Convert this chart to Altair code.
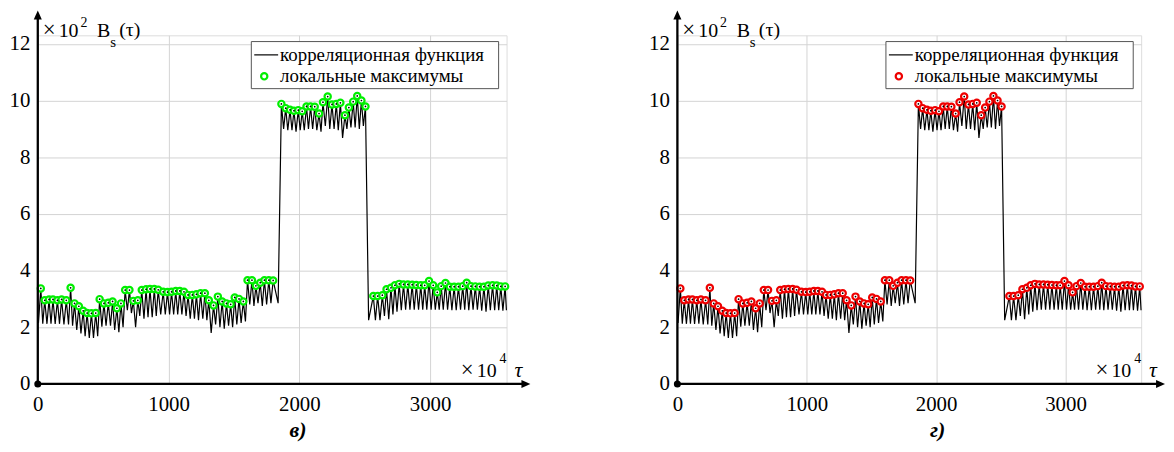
import altair as alt
import pandas as pd

# ---- data (x in units of 1e4*tau, y in units of 1e2) ----
peak_x = [23, 53, 86, 116, 150, 182, 218, 251, 281, 314, 347, 377, 410, 443, 473, 506,
          539, 572, 605, 636, 668, 701, 731, 765, 795, 828, 858, 891, 921, 959, 992, 1023,
          1055, 1086, 1118, 1149, 1182, 1213, 1245, 1278, 1308, 1344, 1377, 1410, 1443, 1475,
          1506, 1539, 1572, 1604, 1638, 1668, 1701, 1733, 1767, 1800, 1863, 1896, 1929, 1959,
          1992, 2022, 2055, 2086, 2118, 2151, 2181, 2217, 2250, 2283, 2314, 2349, 2379, 2412,
          2443, 2475, 2506, 2566, 2599, 2635, 2667, 2701, 2731, 2764, 2797, 2830, 2863, 2895,
          2929, 2959, 2992, 3024, 3055, 3085, 3118, 3151, 3184, 3217, 3250, 3280, 3313, 3346,
          3379, 3412, 3445, 3478, 3510, 3541, 3574]
peak_y = [3.37, 2.95, 2.98, 2.98, 2.95, 2.98, 2.95, 3.39, 2.84, 2.74, 2.58, 2.50, 2.49, 2.50,
          2.99, 2.84, 2.86, 2.91, 2.67, 2.84, 3.31, 3.31, 2.93, 2.95, 3.31, 3.34, 3.35, 3.35,
          3.32, 3.25, 3.24, 3.25, 3.28, 3.28, 3.25, 3.14, 3.14, 3.16, 3.20, 3.20, 2.95, 2.77,
          3.08, 2.91, 2.84, 2.81, 3.05, 3.00, 2.91,
          3.66, 3.66, 3.46, 3.57, 3.66, 3.66, 3.65,
          9.88, 9.73, 9.67, 9.64, 9.66, 9.62, 9.79, 9.79, 9.78, 9.54, 9.94, 10.14, 9.86, 9.88,
          9.92, 9.48, 9.75, 9.96, 10.16, 10.00, 9.79,
          3.10, 3.10, 3.13, 3.34, 3.39, 3.48, 3.53, 3.51, 3.51, 3.50, 3.49, 3.48, 3.48, 3.63,
          3.48, 3.23, 3.45, 3.56, 3.43, 3.43, 3.43, 3.45, 3.57, 3.45, 3.44, 3.43, 3.43, 3.47,
          3.48, 3.47, 3.44, 3.44]
trough_x = [5, 38, 70, 101, 133, 166, 200, 235, 266, 298, 330, 362, 394, 426, 458, 490, 522,
            556, 588, 620, 652, 685, 716, 748, 780, 812, 843, 875, 906, 940, 975, 1008, 1039,
            1070, 1102, 1134, 1166, 1198, 1229, 1262, 1293, 1326, 1360, 1393, 1426, 1459, 1490,
            1522, 1555, 1588, 1621, 1653, 1684, 1717, 1750, 1783, 1838, 1880, 1912, 1944, 1975,
            2007, 2038, 2070, 2102, 2134, 2166, 2199, 2233, 2266, 2298, 2331, 2364, 2395, 2427,
            2459, 2490, 2530, 2582, 2617, 2651, 2684, 2716, 2747, 2780, 2813, 2846, 2879, 2912,
            2944, 2975, 3008, 3040, 3070, 3101, 3134, 3167, 3200, 3233, 3265, 3296, 3329, 3362,
            3395, 3428, 3461, 3494, 3525, 3557, 3584]
trough_y = [2.15,
            2.12, 2.12, 2.12, 2.12, 2.12, 2.10, 2.10, 2.05, 1.90, 1.78, 1.68, 1.62, 1.62, 1.68,
            2.02, 2.05, 2.05, 1.90, 1.82, 2.00, 2.60, 2.50, 2.00, 2.40, 2.30, 2.35, 2.35, 2.40,
            2.45, 2.45, 2.45, 2.45, 2.45, 2.45, 2.40, 2.30, 2.30, 2.25, 2.30, 2.25, 1.80, 2.10,
            2.00, 1.95, 2.05, 2.00, 2.10, 2.15, 2.20,
            2.80, 2.75, 2.85, 2.75, 2.80, 2.85, 2.85,
            9.00, 8.95, 8.95, 8.90, 8.95, 8.95, 9.00, 9.00, 8.95, 8.90, 9.10, 9.00, 9.00, 8.95,
            8.68, 9.00, 9.05, 9.05, 9.00, 9.10, 2.25,
            2.25, 2.25, 2.40, 2.28, 2.45, 2.55, 2.60, 2.62, 2.62, 2.62, 2.62, 2.62, 2.62, 2.62,
            2.62, 2.62, 2.62, 2.62, 2.60, 2.60, 2.62, 2.62, 2.60, 2.62, 2.62, 2.58, 2.55, 2.60,
            2.60, 2.60, 2.58, 2.60]

x_ticks = [0, 1000, 2000, 3000]
y_ticks = [0, 2, 4, 6, 8, 10, 12]
legend_labels = ["корреляционная функция", "локальные максимумы"]
panel_tags = ["в)", "г)"]
marker_colors = ["#00ee00", "#ee0000"]

FONT = "Liberation Serif"
GRID = "#d4d4d4"

line_df = pd.DataFrame({"x": peak_x + trough_x, "y": peak_y + trough_y}).sort_values("x")
peak_df = pd.DataFrame({"x": peak_x, "y": peak_y})
one = pd.DataFrame({"k": [0]})


def txt(s, x, y, size=20, style="normal", weight="normal", align="left", baseline="alphabetic"):
    return alt.Chart(one).mark_text(
        text=s, font=FONT, fontSize=size, fontStyle=style, fontWeight=weight,
        align=align, baseline=baseline, color="black"
    ).encode(x=alt.value(x), y=alt.value(y))


def panel(W, H, color, tag):
    xscale = alt.Scale(domain=[0, 3585], nice=False, zero=False)
    yscale = alt.Scale(domain=[0, 12.3], nice=False, zero=False)
    xax = alt.Axis(values=x_ticks, format="d", title=None, domain=False, ticks=False,
                   grid=True, gridColor=GRID, gridWidth=1, labelFont=FONT, labelFontSize=21,
                   labelColor="black", labelPadding=10, labelFlush=False)
    yax = alt.Axis(values=y_ticks, format="d", title=None, domain=False, ticks=False,
                   grid=True, gridColor=GRID, gridWidth=1, labelFont=FONT, labelFontSize=21,
                   labelColor="black", labelPadding=8, labelFlush=False)
    X = alt.X("x:Q", scale=xscale, axis=xax)
    Y = alt.Y("y:Q", scale=yscale, axis=yax)

    line = alt.Chart(line_df).mark_line(color="black", strokeWidth=1.2).encode(x=X, y=Y)
    marks = alt.Chart(peak_df).mark_point(shape="circle", filled=True, fill="white",
                                          stroke=color, strokeWidth=2.2, size=40,
                                          opacity=1).encode(x="x:Q", y="y:Q")
    dots = alt.Chart(peak_df).mark_circle(color="black", size=3, opacity=1).encode(x="x:Q", y="y:Q")

    yaxis = alt.Chart(one).mark_rule(color="black", strokeWidth=2.3).encode(
        x=alt.value(0), y=alt.value(H), y2=alt.value(-17))
    xaxis = alt.Chart(one).mark_rule(color="black", strokeWidth=2.3).encode(
        x=alt.value(0), x2=alt.value(W + 16), y=alt.value(H))
    yarrow = alt.Chart(one).mark_point(shape="M0,-1L0.9,1L-0.9,1Z", filled=True, color="black",
                                       size=81, opacity=1).encode(x=alt.value(0), y=alt.value(-20.5))
    xarrow = alt.Chart(one).mark_point(shape="M1,0L-1,0.9L-1,-0.9Z", filled=True, color="black",
                                       size=81, opacity=1).encode(x=alt.value(W + 19.5), y=alt.value(H))
    origin = alt.Chart(one).mark_circle(color="black", size=50, opacity=1).encode(
        x=alt.value(0), y=alt.value(H))

    texts = [
        txt("×", 5, 2, 23),
        txt("10", 21, 2, 20),
        txt("2", 43, -8, 14),
        txt("B", 59.7, 2, 20),
        txt("s", 73, 12, 15),
        txt("(τ)", 82, 1, 20),
        txt("×", W - 46, H - 7, 23),
        txt("10", W - 30, H - 7, 20),
        txt("4", W - 7, H - 21, 14),
        txt("τ", W + 8, H - 7, 22, style="italic"),
        txt(tag, 262, H + 46, 22, style="italic", weight="bold", align="center", baseline="middle"),
    ]

    box = alt.Chart(one).mark_rect(fill="white", stroke="#555555", strokeWidth=1).encode(
        x=alt.value(W - 257), x2=alt.value(W - 8), y=alt.value(6.3), y2=alt.value(53.7))
    lsample = alt.Chart(one).mark_rule(color="black", strokeWidth=1.2).encode(
        x=alt.value(W - 254), x2=alt.value(W - 230), y=alt.value(19.7))
    lmark = alt.Chart(one).mark_point(shape="circle", filled=True, fill="white", stroke=color,
                                      strokeWidth=2.2, size=40, opacity=1).encode(
        x=alt.value(W - 244), y=alt.value(41.3))
    lt1 = txt(legend_labels[0], W - 228, 20, 19, baseline="middle")
    lt2 = txt(legend_labels[1], W - 228, 41.5, 19, baseline="middle")

    return alt.layer(line, marks, dots, yaxis, xaxis, yarrow, xarrow, origin,
                     box, lsample, lmark, lt1, lt2, *texts).properties(width=W, height=H)


left = panel(472, 351, marker_colors[0], panel_tags[0])
right = panel(467, 351, marker_colors[1], panel_tags[1])

chart = alt.hconcat(left, right, spacing=172, bounds="flush").properties(
    padding=0
).configure_view(stroke=None).configure(background="white")

chart.save("out.html", embed_options={"renderer": "svg", "actions": False})
